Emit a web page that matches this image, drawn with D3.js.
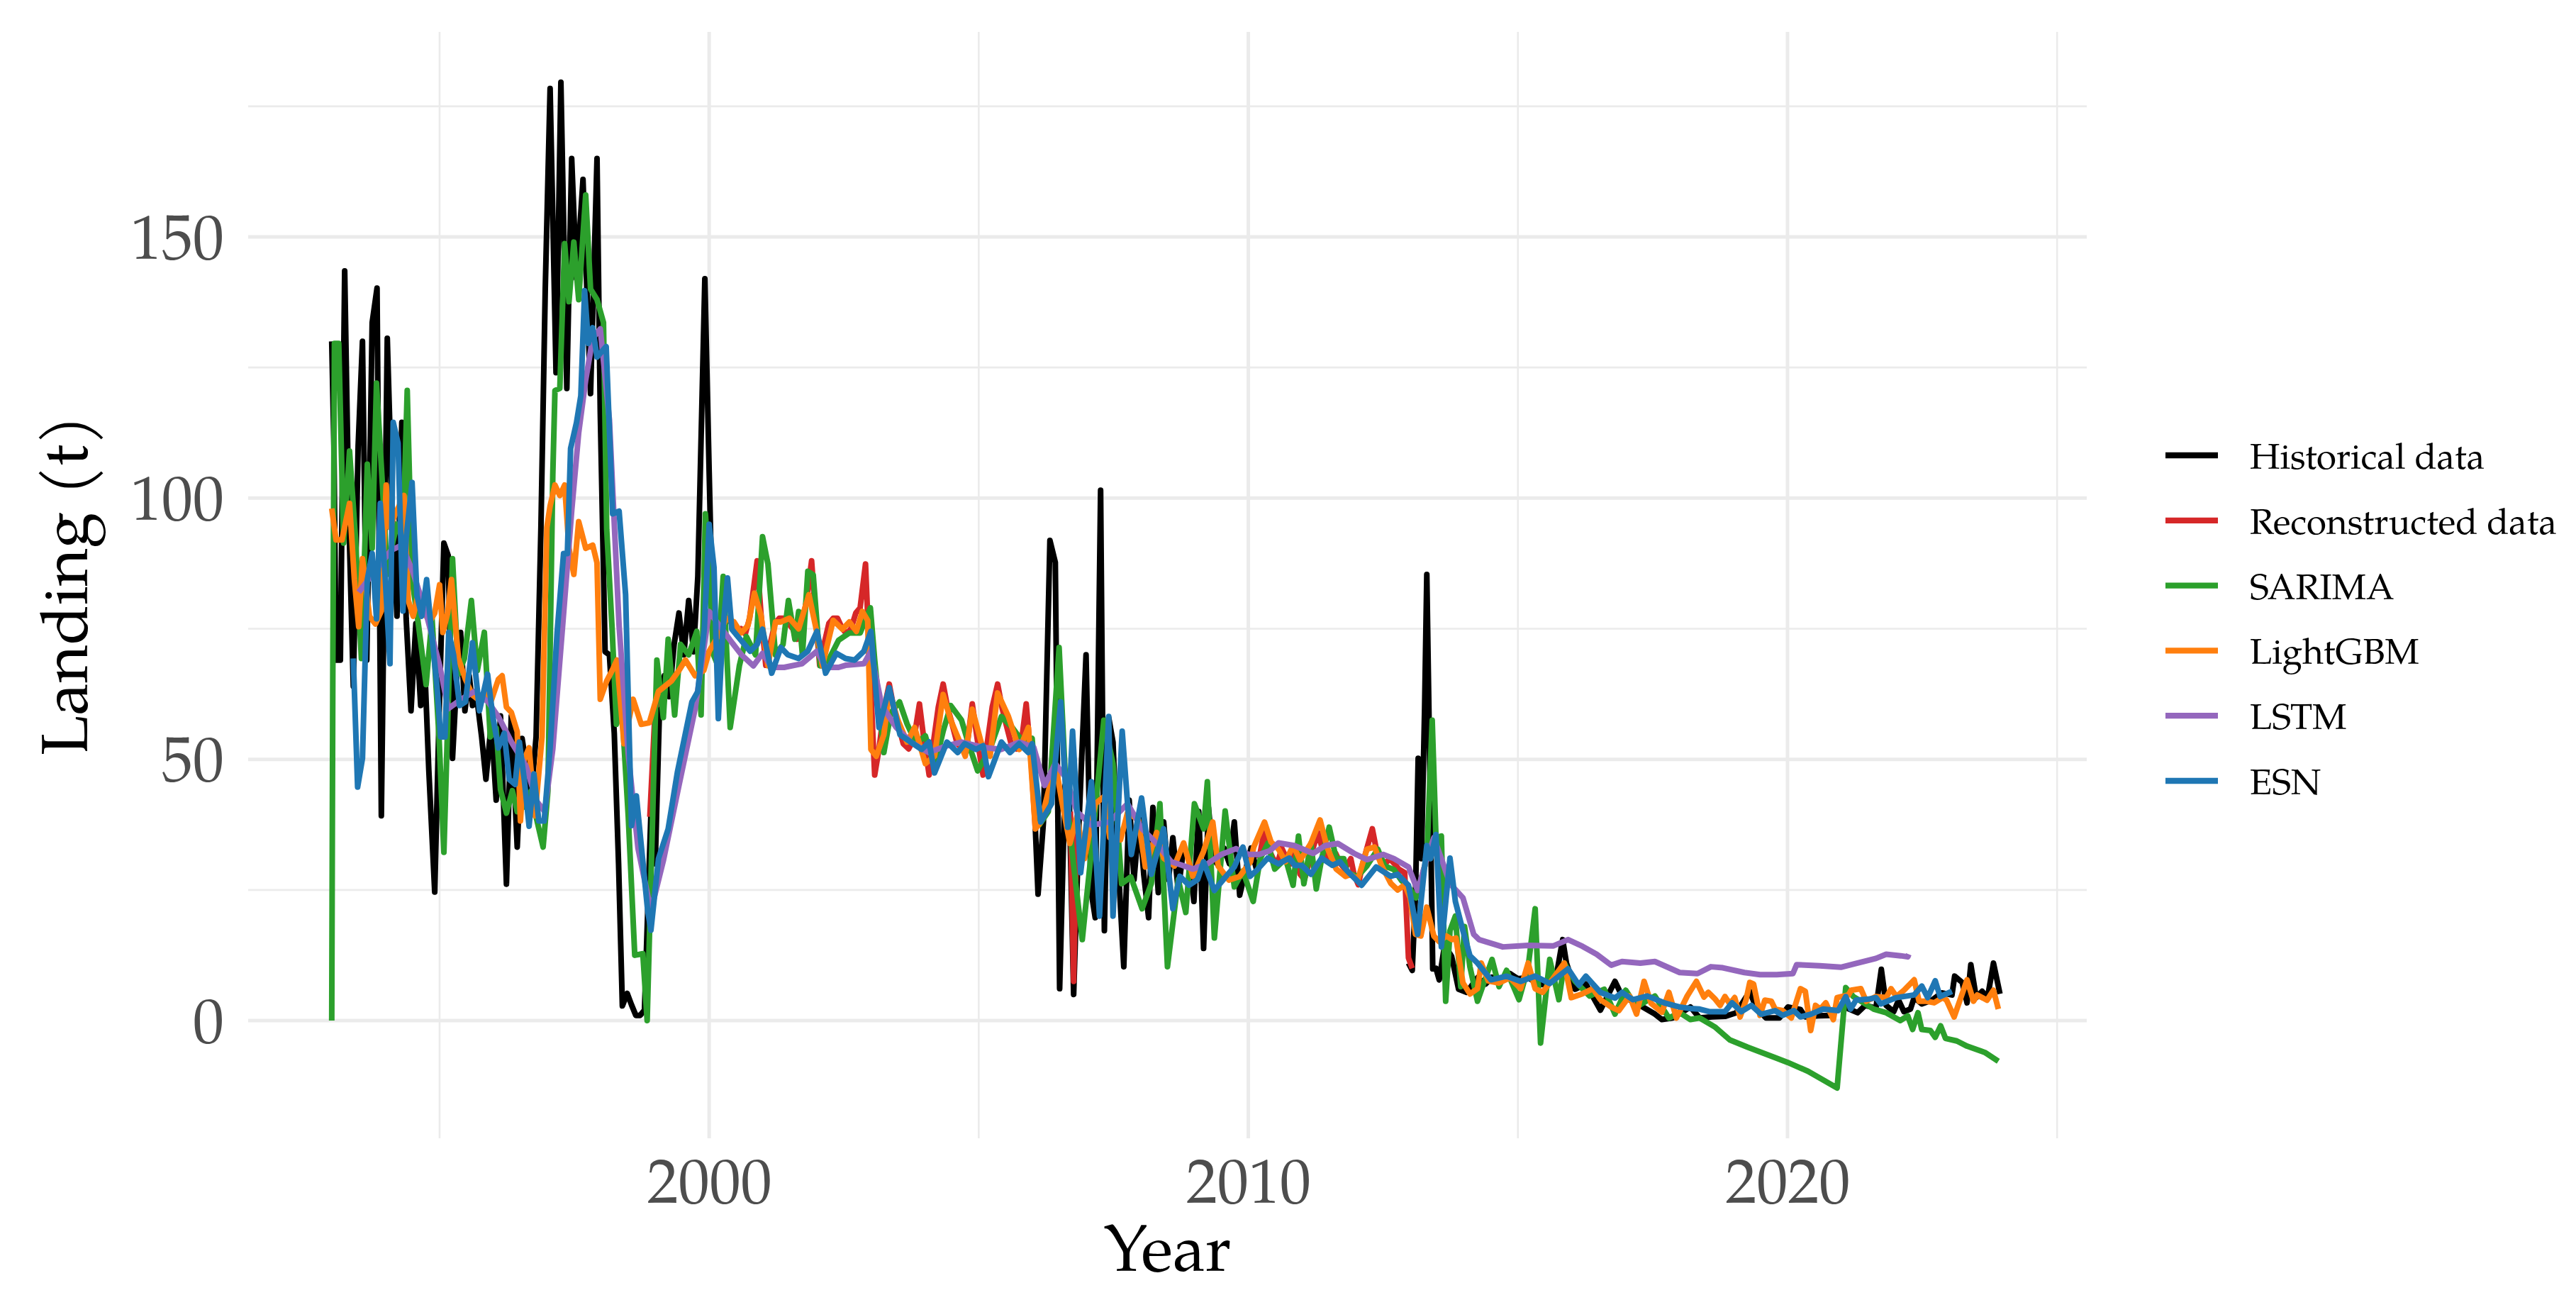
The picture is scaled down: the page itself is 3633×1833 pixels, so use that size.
<!DOCTYPE html>
<html><head><meta charset="utf-8">
<script src="https://cdn.jsdelivr.net/npm/d3@7"></script>
<style>html,body{margin:0;padding:0;background:#fff;} svg{display:block;}</style>
</head><body>
<svg id="chart" width="3633" height="1833"></svg>
<script>
// ---------------- DATA ----------------
const xTicks = [2000, 2010, 2020];
const xMinorTicks = [1995, 2005, 2015, 2025];
const yTicks = [0, 50, 100, 150];
const yMinorTicks = [25, 75, 125, 175];
const xLimits = [1993.0, 2024.0];
const yLimits = [-12.9, 179.6];
const seriesNames = ["Historical data", "Reconstructed data", "SARIMA", "LightGBM", "LSTM", "ESN"];

const historical = [
[1993.0,130],[1993.04,110],[1993.08,69],[1993.16,69],[1993.24,143.5],[1993.32,95],[1993.4,64],[1993.49,110],[1993.57,130],[1993.65,69],[1993.75,133.6],[1993.84,140.2],[1993.92,39.2],[1994.03,130.6],[1994.12,98.5],[1994.21,77.4],[1994.3,114.5],[1994.38,77],[1994.47,59.3],[1994.56,76],[1994.65,60.3],[1994.72,69],[1994.8,48],[1994.91,24.6],[1995.0,62],[1995.08,91.4],[1995.16,89],[1995.24,50.2],[1995.32,66],[1995.39,74.3],[1995.47,59.3],[1995.55,66],[1995.61,60.3],[1995.7,61],[1995.78,54.3],[1995.86,46.2],[1995.96,57],[1996.05,42.2],[1996.13,58.3],[1996.24,26.1],[1996.33,58.3],[1996.44,33.2],[1996.53,54],[1996.62,48],[1996.7,43.2],[1996.79,54.3],[1996.88,94.4],[1996.96,140],[1997.05,178.4],[1997.16,124],[1997.25,179.6],[1997.36,121],[1997.45,165],[1997.54,142],[1997.66,161],[1997.8,120],[1997.92,165],[1997.98,116.6],[1998.07,70.6],[1998.15,70],[1998.24,55],[1998.32,30],[1998.39,2.8],[1998.48,5.2],[1998.56,3],[1998.64,1],[1998.72,1],[1998.8,2],[1998.92,39.7],[1999.0,30],[1999.08,60],[1999.17,66],[1999.26,62],[1999.35,72],[1999.44,78],[1999.53,70],[1999.62,80.4],[1999.71,70.6],[1999.79,85],[1999.87,120],[1999.92,142],[2000.0,105],[2000.08,70],
[2003.0,null],
[2006.05,36.7],[2006.1,24.2],[2006.2,38],[2006.32,91.9],[2006.42,87.7],[2006.5,6.1],[2006.6,45],[2006.68,42],[2006.76,5],[2006.86,38],[2006.99,70],[2007.08,25],[2007.16,19.7],[2007.26,101.5],[2007.33,17.2],[2007.41,58],[2007.49,53.3],[2007.58,31],[2007.69,10.3],[2007.79,42.2],[2007.88,27],[2007.98,39],[2008.06,28],[2008.15,19.7],[2008.23,40.8],[2008.33,24.5],[2008.43,38],[2008.52,27],[2008.6,35],[2008.7,25],[2008.8,33],[2008.9,31],[2008.99,22.8],[2009.08,40],[2009.17,13.8],[2009.26,40.8],[2009.35,31],[2009.45,29.6],[2009.55,33],[2009.65,30],[2009.74,38],[2009.84,24],[2009.93,28],[2010.05,33],[2010.15,29],[2010.25,31],
[2011.5,null],
[2012.97,11],[2013.04,9.6],[2013.1,24],[2013.15,50.2],[2013.21,31],[2013.27,60],[2013.31,85.4],[2013.36,52],[2013.42,9.9],[2013.48,10],[2013.54,7.8],[2013.64,14.4],[2013.77,12.3],[2013.9,6],[2014.05,5.4],[2014.25,8.2],[2014.4,7],[2014.52,8.3],[2014.7,7.5],[2014.85,9],[2015.0,8],[2015.19,8.2],[2015.38,7],[2015.53,6.8],[2015.73,9.6],[2015.83,15.5],[2015.9,11],[2016.06,6],[2016.26,7],[2016.53,2],[2016.8,7.5],[2016.93,4.7],[2017.2,3.3],[2017.54,1.25],[2017.67,0.2],[2017.87,0.5],[2018.2,2.6],[2018.37,0.5],[2018.6,0.7],[2018.84,0.8],[2019.05,1.5],[2019.3,5.6],[2019.42,2.4],[2019.6,0.5],[2019.85,0.5],[2020.01,2.6],[2020.24,2.1],[2020.33,0.7],[2020.57,0.9],[2020.8,1],[2020.94,2.4],[2021.1,2.4],[2021.3,1.5],[2021.44,2.9],[2021.64,2.4],[2021.74,9.8],[2021.83,2.9],[2021.97,1.7],[2022.06,3.9],[2022.16,1.7],[2022.28,2.2],[2022.35,4.4],[2022.49,3.2],[2022.68,3.9],[2022.86,5.3],[2023.05,4.9],[2023.1,8.5],[2023.24,7.3],[2023.33,3.4],[2023.4,10.7],[2023.5,4.4],[2023.61,5.6],[2023.71,4.4],[2023.82,11],[2023.94,5.1]
];

const reconstructed = [
[1998.9,39],[1999.0,60],[1999.08,61],
[1999.5,null],
[2000.08,70],[2000.17,72],[2000.25,75],[2000.34,77],[2000.42,76],[2000.5,74],[2000.59,75],[2000.67,74],[2000.75,77],[2000.84,84],[2000.89,88],[2000.96,78],[2001.05,68],[2001.13,72],[2001.22,76],[2001.3,77],[2001.38,77],[2001.47,76],[2001.55,75],[2001.63,73],[2001.72,76],[2001.8,80],[2001.9,88],[2001.97,78],[2002.05,68],[2002.13,72],[2002.22,76],[2002.3,77],[2002.38,77],[2002.47,75],[2002.55,74],[2002.63,75],[2002.72,78],[2002.8,79],[2002.9,87.4],[2002.97,70],[2003.07,47],[2003.15,52],[2003.25,60],[2003.34,64.4],[2003.42,60],[2003.5,57],[2003.6,53],[2003.7,52],[2003.8,54],[2003.9,60.6],[2003.98,54],[2004.08,47],[2004.17,54],[2004.25,60],[2004.34,64.4],[2004.42,60],[2004.5,57],[2004.6,53],[2004.7,52],[2004.8,54],[2004.88,60.6],[2004.97,54],[2005.08,47],[2005.17,54],[2005.25,60],[2005.35,64.4],[2005.43,60],[2005.5,57],[2005.6,53],[2005.7,52],[2005.8,54],[2005.88,60.6],[2005.97,50],[2006.05,36.7],
[2006.4,null],
[2006.7,40],[2006.76,7.5],[2006.82,38],
[2008.0,null],
[2010.2,31],[2010.29,36],[2010.37,33],[2010.46,31],[2010.54,30],[2010.62,33],[2010.71,31],[2010.79,30],[2010.87,32],[2010.96,28],[2011.04,27],[2011.12,30],[2011.2,33],[2011.29,36],[2011.37,33],[2011.46,31],[2011.54,30],[2011.62,32],[2011.71,30],[2011.79,29],[2011.9,31],[2011.96,28],[2012.04,26],[2012.12,30],[2012.2,33],[2012.3,36.7],[2012.37,33],[2012.46,31],[2012.54,30],[2012.62,31],[2012.71,30],[2012.79,29],[2012.9,28.3],[2012.97,12],[2013.04,10]
];

const sarima = [
[1993.0,0],[1993.02,67],[1993.05,129.6],[1993.13,129.6],[1993.22,91.4],[1993.33,109],[1993.44,92.4],[1993.55,69.3],[1993.66,106.5],[1993.75,90.4],[1993.83,122],[1993.94,102.5],[1994.03,85.4],[1994.12,91],[1994.21,95],[1994.32,92],[1994.4,120.6],[1994.49,84.4],[1994.6,76.4],[1994.75,64.3],[1994.86,77],[1994.99,54.3],[1995.08,32.2],[1995.24,88.4],[1995.35,66.3],[1995.46,69.3],[1995.59,80.4],[1995.7,67],[1995.83,74.3],[1995.94,54.3],[1996.05,56],[1996.13,44.2],[1996.24,39.7],[1996.35,44],[1996.44,40],[1996.57,41],[1996.7,44],[1996.79,39],[1996.92,33.2],[1997.01,44],[1997.1,104.5],[1997.14,120.6],[1997.23,121],[1997.32,148.7],[1997.4,137.6],[1997.49,149],[1997.58,138],[1997.71,158],[1997.8,140],[1997.92,138],[1998.04,133.6],[1998.1,94],[1998.2,75],[1998.28,56.7],[1998.38,60],[1998.5,39],[1998.62,12.5],[1998.77,12.8],[1998.85,0],[1999.03,69],[1999.15,58],[1999.24,73],[1999.36,58.5],[1999.47,72],[1999.62,70],[1999.77,74.5],[1999.85,58.5],[1999.93,97],
[2000.0,86.7],[2000.08,70],[2000.16,68],[2000.26,85],[2000.39,56.1],[2000.56,67.9],[2000.69,73.5],[2000.86,70],[2000.99,92.6],[2001.09,87.4],[2001.23,70],[2001.37,72],[2001.47,80.4],[2001.59,73],[2001.66,78.3],[2001.73,70],[2001.83,86],[2001.93,85.3],[2002.06,67.9],[2002.16,67.9],[2002.4,72.8],[2002.6,74.2],[2002.8,74.2],[2002.99,79],[2003.07,69],[2003.24,51.3],[2003.37,58.9],[2003.53,61],[2003.67,56.8],[2003.84,53],[2004.01,54.5],[2004.18,48.5],[2004.34,55.4],[2004.48,60.3],[2004.68,57.5],[2004.81,53],[2004.98,47.8],[2005.21,52],[2005.42,58.2],[2005.62,56.1],[2005.82,53.3],[2005.99,54],[2006.12,37.4],[2006.29,40],[2006.49,71.4],[2006.62,43.6],[2006.76,29.7],[2006.92,15.5],[2007.09,32.5],[2007.32,57.5],[2007.49,49.2],[2007.65,26.2],[2007.82,27.5],[2008.03,21.4],[2008.2,26.2],[2008.36,41.5],[2008.5,10.3],[2008.7,27],[2008.84,20.7],[2009.0,41.5],[2009.17,36.7],[2009.24,45.7],[2009.37,15.8],[2009.57,40.1],[2009.74,25.6],[2009.9,28.6],
[2010.09,22.8],[2010.22,31],[2010.36,33.9],[2010.49,29],[2010.69,31],[2010.83,25.9],[2010.93,35.3],[2011.03,26.2],[2011.16,33.9],[2011.26,25.2],[2011.36,31],[2011.5,37],[2011.63,31],[2011.77,31],[2011.83,28.3],[2012.03,27.6],[2012.2,29.6],[2012.4,32.8],[2012.53,29.6],[2012.7,28.9],[2012.84,26.8],[2012.97,25.6],[2013.11,23.5],[2013.31,31],[2013.41,57.5],[2013.48,35],[2013.58,35.3],[2013.66,3.7],[2013.74,17.2],[2013.84,20],[2013.94,6.5],[2014.01,18],[2014.11,10.3],[2014.25,3.7],[2014.52,11.7],[2014.65,6.5],[2014.79,9.6],[2015.02,4],[2015.19,10.3],[2015.32,21.4],[2015.42,-4.3],[2015.59,11.7],[2015.76,4],[2015.86,11],[2016.06,7.5],[2016.33,4.7],[2016.6,6],[2016.8,1.25],[2017.0,5.8],[2017.2,2.6],[2017.54,4.7],[2017.8,0.5],[2018.0,1.5],[2018.2,0.2],[2018.37,0.5],[2018.65,-1.2],[2018.93,-3.7],[2019.26,-5.1],[2019.77,-7.1],[2020.0,-8],[2020.38,-9.7],[2020.92,-12.9],[2021.08,6.3],[2021.22,4.6],[2021.6,2.2],[2021.83,1.5],[2022.09,0],[2022.23,0.9],[2022.32,-1.7],[2022.42,1.5],[2022.49,-1.7],[2022.65,-1.9],[2022.74,-3.2],[2022.84,-1],[2022.93,-3.4],[2023.14,-3.9],[2023.33,-4.9],[2023.66,-6.1],[2023.91,-7.8]
];

const lightgbm = [
[1993.0,98],[1993.08,92],[1993.19,92],[1993.33,99],[1993.42,84.4],[1993.5,75.4],[1993.57,88.4],[1993.7,77.4],[1993.81,75.9],[1993.92,78.4],[1994.01,102.5],[1994.08,94.4],[1994.16,96.5],[1994.25,98.5],[1994.34,100.5],[1994.42,80.4],[1994.51,77.4],[1994.6,81.4],[1994.71,78],[1994.82,76.4],[1994.91,78],[1995.0,83.4],[1995.06,74.3],[1995.15,78],[1995.22,84.4],[1995.35,69.3],[1995.48,65.3],[1995.61,62.3],[1995.74,61.3],[1995.87,63],[1995.96,61.3],[1996.09,65.3],[1996.16,66],[1996.24,60],[1996.33,59],[1996.44,55.3],[1996.5,38.2],[1996.57,50],[1996.66,52.2],[1996.77,39.2],[1996.9,54.3],[1996.99,94.4],[1997.05,98.5],[1997.14,102.5],[1997.23,100.5],[1997.32,102.5],[1997.4,90.4],[1997.49,85.4],[1997.58,95.5],[1997.71,90.4],[1997.84,91],[1997.92,87.6],[1997.98,61.5],[1998.1,65],[1998.2,67],[1998.29,69],[1998.42,53],[1998.59,61.5],[1998.74,56.7],[1998.89,57],[1999.06,63],[1999.3,65],[1999.44,67],[1999.56,69],[1999.74,66],[1999.9,67],
[2000.0,70.7],[2000.12,72.8],[2000.32,77],[2000.46,76.3],[2000.59,74.2],[2000.72,75.6],[2000.84,81.8],[2000.96,77.6],[2001.09,67.9],[2001.23,76.3],[2001.33,76.3],[2001.49,77],[2001.66,75],[2001.85,81.5],[2002.0,74.2],[2002.1,67.9],[2002.3,76.6],[2002.47,74.9],[2002.6,76.3],[2002.73,74.5],[2002.84,78.3],[2002.94,76.6],[2003.0,51.9],[2003.1,50.6],[2003.24,54.7],[2003.34,63],[2003.5,57.5],[2003.67,53.3],[2003.81,56.1],[2004.01,49.2],[2004.18,50.6],[2004.34,62.4],[2004.48,57.5],[2004.65,53.3],[2004.75,50.6],[2004.88,59.6],[2005.08,51.9],[2005.21,50.6],[2005.35,62.7],[2005.55,58.2],[2005.75,51.9],[2005.92,56.1],[2006.05,36.7],[2006.15,38],[2006.42,49.2],[2006.55,41.5],[2006.69,33.9],[2006.82,39],[2006.96,31],[2007.16,41.5],[2007.33,42.9],[2007.43,35],[2007.63,34.6],[2007.76,39.8],[2007.96,38.4],[2008.09,29.4],[2008.3,36],[2008.43,31.1],[2008.63,29.6],[2008.8,34],[2008.97,27.6],[2009.17,32.4],[2009.34,38],[2009.44,29.6],[2009.64,26.9],[2009.84,27.6],[2010.04,30.4],
[2010.1,33.2],[2010.3,38],[2010.42,34.2],[2010.56,32.8],[2010.69,30.4],[2010.83,33.5],[2010.96,30.7],[2011.16,33.9],[2011.33,38.4],[2011.46,33.2],[2011.63,29],[2011.8,27.6],[2011.9,28],[2012.03,27],[2012.2,32.8],[2012.34,33.2],[2012.47,29.7],[2012.64,26.3],[2012.77,25],[2012.9,26],[2013.0,23.5],[2013.1,16.5],[2013.2,16.2],[2013.31,21.7],[2013.44,16.2],[2013.54,15.1],[2013.67,16.2],[2013.78,15.5],[2013.85,15.8],[2013.98,7.2],[2014.11,5.1],[2014.25,6.1],[2014.32,11],[2014.45,7.6],[2014.65,7.2],[2014.85,8.2],[2015.05,6.1],[2015.19,11],[2015.32,6.1],[2015.46,5.4],[2015.66,8.2],[2015.86,11],[2015.99,4.4],[2016.19,5.1],[2016.39,6.1],[2016.53,4],[2016.73,2.6],[2016.87,1.9],[2017.07,4.7],[2017.2,1.25],[2017.34,7.5],[2017.47,3.3],[2017.67,1.6],[2017.8,5.4],[2017.94,0.5],[2018.14,4.7],[2018.31,7.5],
[2018.45,4.5],[2018.53,5.4],[2018.65,4.2],[2018.75,2.9],[2018.84,4.6],[2018.93,3.2],[2019.02,4.4],[2019.12,0.7],[2019.23,3.9],[2019.3,7.3],[2019.37,7],[2019.49,1],[2019.58,3.9],[2019.7,3.7],[2019.77,2.2],[2019.91,1.9],[2020.07,0.5],[2020.24,6.1],[2020.33,5.6],[2020.43,-1.9],[2020.52,2.9],[2020.61,2.2],[2020.71,3.4],[2020.85,0.2],[2020.92,4.4],[2021.13,4.9],[2021.18,5.8],[2021.36,6.1],[2021.46,3.7],[2021.64,4.6],[2021.83,4.4],[2021.92,6.1],[2022.02,4.6],[2022.16,5.8],[2022.35,7.8],[2022.44,3.7],[2022.58,3.7],[2022.72,3.4],[2022.88,4.4],[2022.95,3.9],[2023.09,0.7],[2023.33,7.8],[2023.45,3.7],[2023.52,4.9],[2023.7,3.9],[2023.82,5.8],[2023.91,2.2]
];

const lstm = [
[1993.5,82],[1993.8,86],[1994.1,90],[1994.3,91],[1994.5,86],[1994.75,78],[1995.0,68],[1995.16,59.7],[1995.4,61.5],[1995.65,63],[1995.9,61],[1996.1,58],[1996.35,53],[1996.6,48.8],[1996.8,42],[1996.95,40],[1997.1,52],[1997.27,74],[1997.45,97.5],[1997.58,112.5],[1997.71,122.6],[1997.84,130.6],[1997.98,132.4],[1998.15,115],[1998.33,75.5],[1998.5,51],[1998.68,33],[1998.92,21],[1999.15,30.6],[1999.44,45],[1999.74,59.7],[2000.0,78.3],[2000.19,75.6],[2000.39,72.8],[2000.6,70],[2000.82,67.9],[2000.99,70.3],[2001.16,67.6],[2001.39,67.6],[2001.72,68.3],[2002.0,70.7],[2002.16,67.6],[2002.4,67.6],[2002.53,68],[2002.87,68.3],[2003.0,70.7],[2003.2,60.3],[2003.47,56.1],[2003.74,53.3],[2004.07,51.3],[2004.41,52.6],[2004.68,53.3],[2005.08,52.3],[2005.42,51.9],[2005.75,53.3],[2006.02,52.3],[2006.22,45],[2006.42,49.2],[2006.62,46.4],[2006.82,40],[2007.09,37.4],[2007.42,38],[2007.76,41.5],[2008.03,36.7],[2008.3,33.9],[2008.57,30.4],[2008.78,29.7],[2008.97,29],[2009.24,30],[2009.5,31.8],[2009.77,32.9],[2010.0,31.8],[2010.2,31.8],[2010.4,32.5],[2010.56,34],[2010.85,33.5],[2011.2,32],[2011.43,33.5],[2011.66,33.9],[2011.96,32],[2012.2,30.8],[2012.5,31.8],[2012.7,31],[2012.97,29.4],[2013.14,24.9],[2013.31,31],[2013.44,35],[2013.58,31],[2013.74,26.2],[2013.98,23.5],[2014.18,16.5],[2014.28,15.5],[2014.72,14.1],[2015.19,14.4],[2015.66,14.3],[2015.93,15.5],[2016.2,14.2],[2016.46,12.7],[2016.73,10.6],[2016.93,11.3],[2017.27,11],[2017.54,11.3],[2018.0,9.2],[2018.33,9],[2018.58,10.3],[2018.8,10.1],[2019.2,9.2],[2019.49,8.8],[2019.8,8.8],[2020.1,9.0],[2020.17,10.7],[2020.6,10.5],[2020.99,10.2],[2021.3,11],[2021.64,11.9],[2021.83,12.7],[2022.1,12.4],[2022.23,12.2],[2022.25,12.7]
];

const esn = [
[1993.4,69.3],[1993.48,44.7],[1993.57,50.2],[1993.66,84.4],[1993.75,89.4],[1993.83,76.9],[1993.9,99],[1993.99,85],[1994.08,68.3],[1994.14,114.5],[1994.23,110.5],[1994.32,78.4],[1994.38,92.4],[1994.49,103],[1994.58,81.4],[1994.67,77.4],[1994.76,84.4],[1994.85,74.3],[1994.95,64.3],[1995.02,54.3],[1995.1,54.3],[1995.17,74.3],[1995.26,70],[1995.37,60.3],[1995.48,61],[1995.61,72.3],[1995.74,59.3],[1995.89,66.3],[1995.99,58],[1996.09,52.2],[1996.2,55],[1996.29,46.2],[1996.4,45.2],[1996.48,53.3],[1996.57,46.2],[1996.66,37.2],[1996.75,47.2],[1996.84,38.2],[1996.94,38.2],[1997.05,52.2],[1997.18,74.3],[1997.3,89.4],[1997.37,89.4],[1997.43,109.5],[1997.54,114.5],[1997.62,119.6],[1997.69,139.7],[1997.76,129.6],[1997.84,132.6],[1997.92,127],[1998.09,129],[1998.21,97],[1998.33,97.5],[1998.45,81.5],[1998.56,37.3],[1998.65,43],[1998.86,21],[1998.92,17.3],[1999.06,31],[1999.24,36.7],[1999.41,47.5],[1999.68,61],[1999.79,63],[1999.91,75],[2000.0,95],[2000.09,86.7],[2000.17,57.8],[2000.25,74.2],[2000.34,84.7],[2000.42,74.9],[2000.59,72.8],[2000.76,70.7],[2000.89,72],[2000.99,74.9],[2001.16,66.5],[2001.33,71.4],[2001.46,70],[2001.66,69.3],[2001.83,70.7],[2002.0,74.5],[2002.16,66.5],[2002.36,70.3],[2002.53,69.3],[2002.7,69],[2002.87,70.7],[2003.0,74.5],[2003.15,56.1],[2003.34,63.7],[2003.54,54.7],[2003.74,53.3],[2003.94,51.9],[2004.08,53.3],[2004.18,47.4],[2004.41,53.3],[2004.61,51.3],[2004.74,53],[2004.95,51.9],[2005.08,52.6],[2005.18,46.7],[2005.42,53.3],[2005.58,51.3],[2005.75,53],[2005.92,51.3],[2005.99,53],[2006.15,38],[2006.35,41.5],[2006.52,61],[2006.65,37],[2006.74,55.4],[2006.89,28.3],[2007.09,45.7],[2007.24,20],[2007.41,58.2],[2007.49,20],[2007.66,55.4],[2007.83,31.8],[2008.02,42.6],[2008.2,28],[2008.43,36.7],[2008.6,21.4],[2008.73,27.6],[2008.9,25.9],[2009.06,27],[2009.17,30.4],[2009.37,24.9],[2009.57,27.4],[2009.74,29.4],[2009.9,33.2],[2010.03,27.6],[2010.15,28.7],[2010.36,31.1],[2010.56,30],[2010.76,31.1],[2010.86,29.7],[2010.99,29.7],[2011.16,28],[2011.36,31.1],[2011.56,29.7],[2011.7,30.4],[2011.83,28.7],[2012.1,25.9],[2012.37,29.4],[2012.64,27.6],[2012.77,28],[2012.97,25.9],[2013.14,16.5],[2013.31,33.5],[2013.38,31],[2013.48,35.6],[2013.58,14.1],[2013.74,31.1],[2013.84,22.8],[2013.98,17.2],[2014.11,12.4],[2014.25,11],[2014.5,7.8],[2014.79,8.5],[2015.05,7.5],[2015.32,8.5],[2015.59,7.1],[2015.93,9.9],[2016.13,6.8],[2016.26,8.5],[2016.53,5.4],[2016.8,4.3],[2016.93,5.4],[2017.13,4],[2017.4,4.7],[2017.74,3.3],[2018.0,2.6],[2018.2,2.3],[2018.37,2.2],[2018.55,1.7],[2018.84,1.7],[2018.97,3.4],[2019.14,1.7],[2019.33,2.9],[2019.51,1.2],[2019.77,1.9],[2019.91,1],[2020.12,1.9],[2020.24,0.7],[2020.43,1.2],[2020.66,2.2],[2020.94,1.9],[2021.08,4.6],[2021.17,2.2],[2021.27,3.9],[2021.5,4.1],[2021.64,4.4],[2021.73,3.2],[2022.02,4.4],[2022.35,4.9],[2022.49,6.6],[2022.6,4.4],[2022.74,7.6],[2022.83,4.6],[2023.05,5.6]
];

// ---------------- STYLE ----------------
const seriesColors = ["#000000", "#D62728", "#2CA02C", "#FF7F0E", "#9467BD", "#1F77B4"];
const FONT = "'TeX Gyre Pagella','Palatino Linotype','Book Antiqua',Palatino,'Liberation Serif','DejaVu Serif',serif";

// ---------------- CHART ----------------
(function () {
const svg = d3.select("#chart");
const panel = {left: 350, right: 2943, zeroY: 1439, y150: 334};

const xSpan = xLimits[1] - xLimits[0];
const xDomain = [xLimits[0] - 0.05 * xSpan, xLimits[1] + 0.05 * xSpan];
const x = d3.scaleLinear().domain(xDomain).range([panel.left, panel.right]);

const ySpan = yLimits[1] - yLimits[0];
const yDomain = [yLimits[0] - 0.05 * ySpan, yLimits[1] + 0.05 * ySpan];
const pxPerUnit = (panel.zeroY - panel.y150) / 150;
const y = d3.scaleLinear().domain(yDomain)
  .range([panel.zeroY - yDomain[0] * pxPerUnit, panel.zeroY - yDomain[1] * pxPerUnit]);

const panelTop = y.range()[1], panelBottom = y.range()[0];

const grid = svg.append("g");
grid.selectAll("line.hmin").data(yMinorTicks.filter(v => v >= yDomain[0] && v <= yDomain[1])).join("line")
  .attr("x1", panel.left).attr("x2", panel.right)
  .attr("y1", d => y(d)).attr("y2", d => y(d))
  .attr("stroke", "#EBEBEB").attr("stroke-width", 2.6);
grid.selectAll("line.vmin").data(xMinorTicks.filter(v => v >= xDomain[0] && v <= xDomain[1])).join("line")
  .attr("y1", panelTop).attr("y2", panelBottom)
  .attr("x1", d => x(d)).attr("x2", d => x(d))
  .attr("stroke", "#EBEBEB").attr("stroke-width", 2.6);
grid.selectAll("line.hmaj").data(yTicks).join("line")
  .attr("x1", panel.left).attr("x2", panel.right)
  .attr("y1", d => y(d)).attr("y2", d => y(d))
  .attr("stroke", "#EBEBEB").attr("stroke-width", 5);
grid.selectAll("line.vmaj").data(xTicks).join("line")
  .attr("y1", panelTop).attr("y2", panelBottom)
  .attr("x1", d => x(d)).attr("x2", d => x(d))
  .attr("stroke", "#EBEBEB").attr("stroke-width", 5);

const xAxis = d3.axisBottom(x).tickValues(xTicks).tickFormat(d3.format("d")).tickSize(0).tickPadding(0);
const gx = svg.append("g").attr("transform", `translate(0,${panelBottom})`).call(xAxis);
gx.select(".domain").remove();
gx.selectAll("text").attr("font-family", FONT).attr("font-size", 88).attr("fill", "#4D4D4D")
  .attr("dy", null).attr("y", 91);

const yAxis = d3.axisLeft(y).tickValues(yTicks).tickFormat(d3.format("d")).tickSize(0).tickPadding(0);
const gy = svg.append("g").attr("transform", `translate(${panel.left},0)`).call(yAxis);
gy.select(".domain").remove();
gy.selectAll("text").attr("font-family", FONT).attr("font-size", 88).attr("fill", "#4D4D4D")
  .attr("x", -34).attr("dy", null).attr("y", 30);

svg.append("text").attr("x", (panel.left + panel.right) / 2).attr("y", 1792)
  .attr("text-anchor", "middle").attr("font-family", FONT).attr("font-size", 92).attr("fill", "#000")
  .text("Year");
svg.append("text").attr("transform", `translate(123,${(panelTop + panelBottom) / 2}) rotate(-90)`)
  .attr("text-anchor", "middle").attr("font-family", FONT).attr("font-size", 92).attr("fill", "#000")
  .text("Landing (t)");

const allSeries = [historical, reconstructed, sarima, lightgbm, lstm, esn];
const line = d3.line().defined(d => d[1] !== null).x(d => x(d[0])).y(d => y(d[1]));
const lg = svg.append("g");
allSeries.forEach((s, i) => {
  lg.append("path").datum(s).attr("d", line)
    .attr("fill", "none").attr("stroke", seriesColors[i]).attr("stroke-width", 8)
    .attr("stroke-linejoin", "round").attr("stroke-linecap", "butt");
});

const legY = d3.scalePoint().domain(seriesNames).range([642, 1101]);
const leg = svg.append("g");
seriesNames.forEach((n, i) => {
  leg.append("line").attr("x1", 3054).attr("x2", 3128)
    .attr("y1", legY(n)).attr("y2", legY(n))
    .attr("stroke", seriesColors[i]).attr("stroke-width", 8.3);
  leg.append("text").attr("x", 3173).attr("y", legY(n) + 19)
    .attr("font-family", FONT).attr("font-size", 51).attr("fill", "#000").text(n);
});
})();
</script>
</body></html>
